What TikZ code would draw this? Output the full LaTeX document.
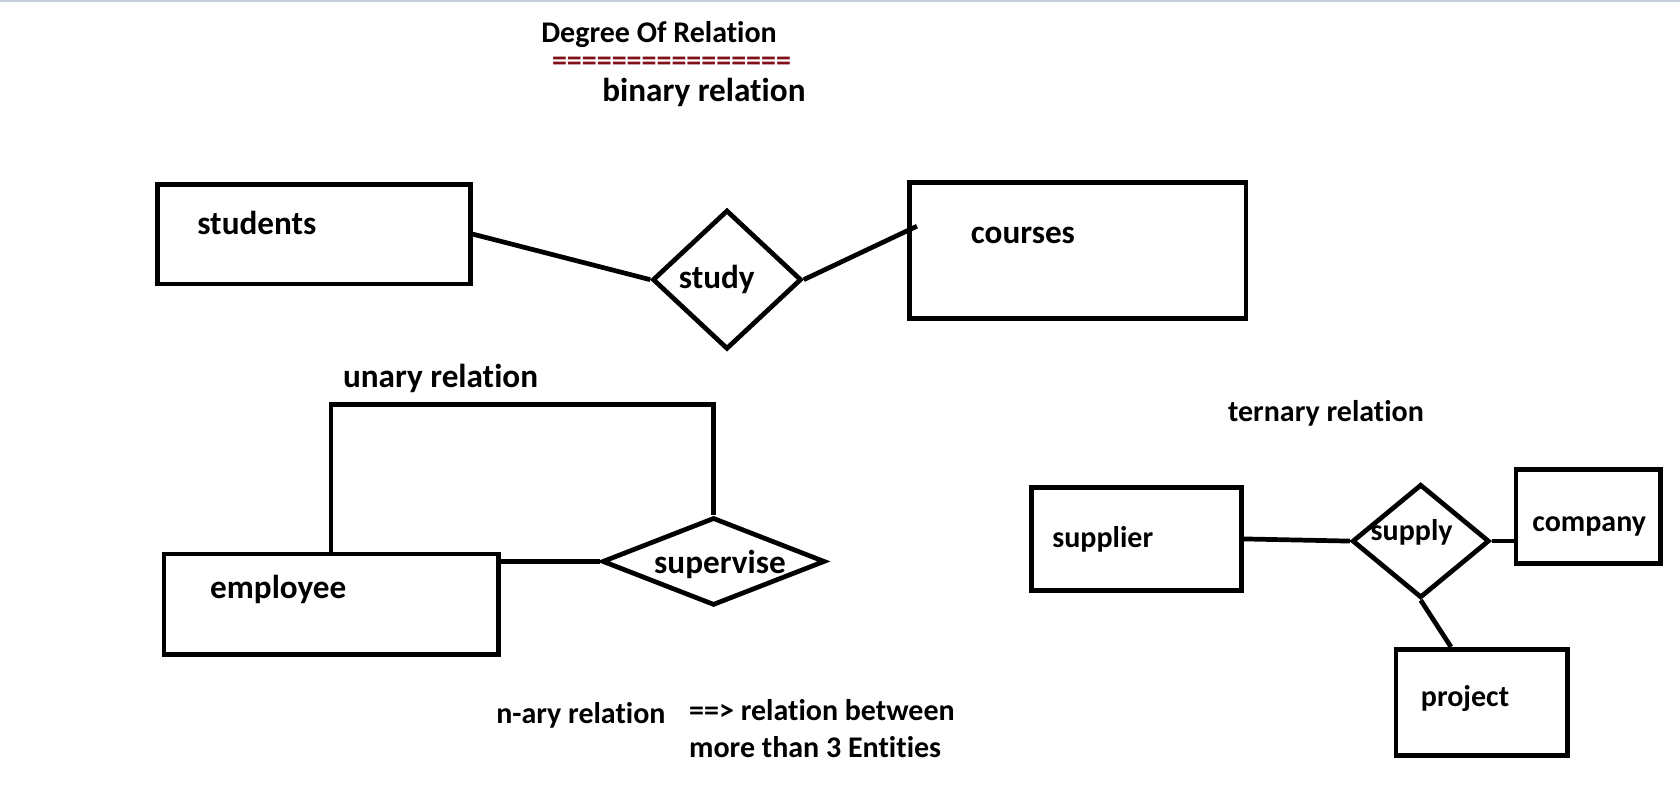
\documentclass[tikz,border=0pt]{standalone}
\usepackage{fontspec}
\setmainfont{Carlito}[Ligatures=NoCommon]
\usepackage{xcolor}
\usepackage{tikz}
\usetikzlibrary{shapes,shapes.geometric}
\usetikzlibrary{calc}
\definecolor{eqred}{RGB}{128,16,24}
\definecolor{topbar}{RGB}{197,206,221}
\tikzset{>=stealth}
\tikzset{entity/.style={draw, rectangle, line width=4.4pt, inner sep=0pt},
  relation/.style={draw, diamond, line width=4.4pt, inner sep=0pt},
  word/.style={font=\fontsize{28}{34}\selectfont\bfseries, inner sep=0pt, anchor=west},
  bigword/.style={word, font=\fontsize{31}{37}\selectfont\bfseries},
  link/.style={line width=4.4pt}}

\begin{document}
\begin{tikzpicture}[x=1pt,y=-1pt]
      \useasboundingbox (0,0) rectangle (1568,753);
      \fill[topbar] (0,0) rectangle (1568,2);
      \node[word] (title) at (505,32) {Degree Of Relation};
      \node[word,eqred] (rule) at (515,60) {================};
      \node[bigword] (binary) at (562,86) {binary relation};
      \node[entity, minimum width=292pt, minimum height=93pt] (students) at (293,218.5) {};
      \node[relation, minimum width=139pt, minimum height=130pt] (study) at (678.5,261) {};
      \node[entity, minimum width=314pt, minimum height=127pt] (courses) at (1006,233.5) {};
      \node[bigword] (studentstext) at (184,208) {students};
      \node[bigword,anchor=center] (studytext) at (669,261) {study};
      \node[bigword] (coursestext) at (906,220) {courses};
      \draw[link] (students.east) -- (study.west);
      \draw[link] (study.east) -- ($(courses.172)+(9,0)$);
      \node[bigword] (unary) at (320,353) {unary relation};
      \node[entity, minimum width=312pt, minimum height=94pt] (employee) at (309,564) {};
      \node[relation, minimum width=208pt, minimum height=82pt] (supervise) at (666,524) {};
      \node[bigword] (employeetext) at (196,550) {employee};
      \node[bigword,anchor=center] (supervisetext) at (672,527) {supervise};
      \draw[link] (supervise.west -| employee.east) -- (supervise.west);
      \draw[link] (employee.north) -- ++(0,-137) -| (supervise.north);
      \node[word] (ternary) at (1146,386) {ternary relation};
      \node[entity, minimum width=196pt, minimum height=96pt] (supplier) at (1061,503) {};
      \node[relation, minimum width=128pt, minimum height=106pt] (supply) at (1326,505) {};
      \node[entity, minimum width=135pt, minimum height=88pt] (company) at (1482.5,482) {};
      \node[entity, minimum width=160pt, minimum height=99pt] (project) at (1383,655.5) {};
      \node[word] (suppliertext) at (982,503) {supplier};
      \node[word,anchor=center] (supplytext) at (1317.5,497) {supply};
      \node[word] (companytext) at (1430,491) {company};
      \node[word] (projecttext) at (1326,652) {project};
      \draw[link] (supplier.east) -- (supply.west);
      \draw[link] (supply.east) -- (supply.east -| company.west);
      \draw[link] (supply.south) -- ($(project.north west)!0.325!(project.north east)$);
      \node[word] (nary) at (463,668) {n-ary relation};
      \node[word] (narydef) at (643,663) {==> relation between};
      \node[word] (narymore) at (643,697) {more than 3 Entities};
    \end{tikzpicture}
\end{document}
